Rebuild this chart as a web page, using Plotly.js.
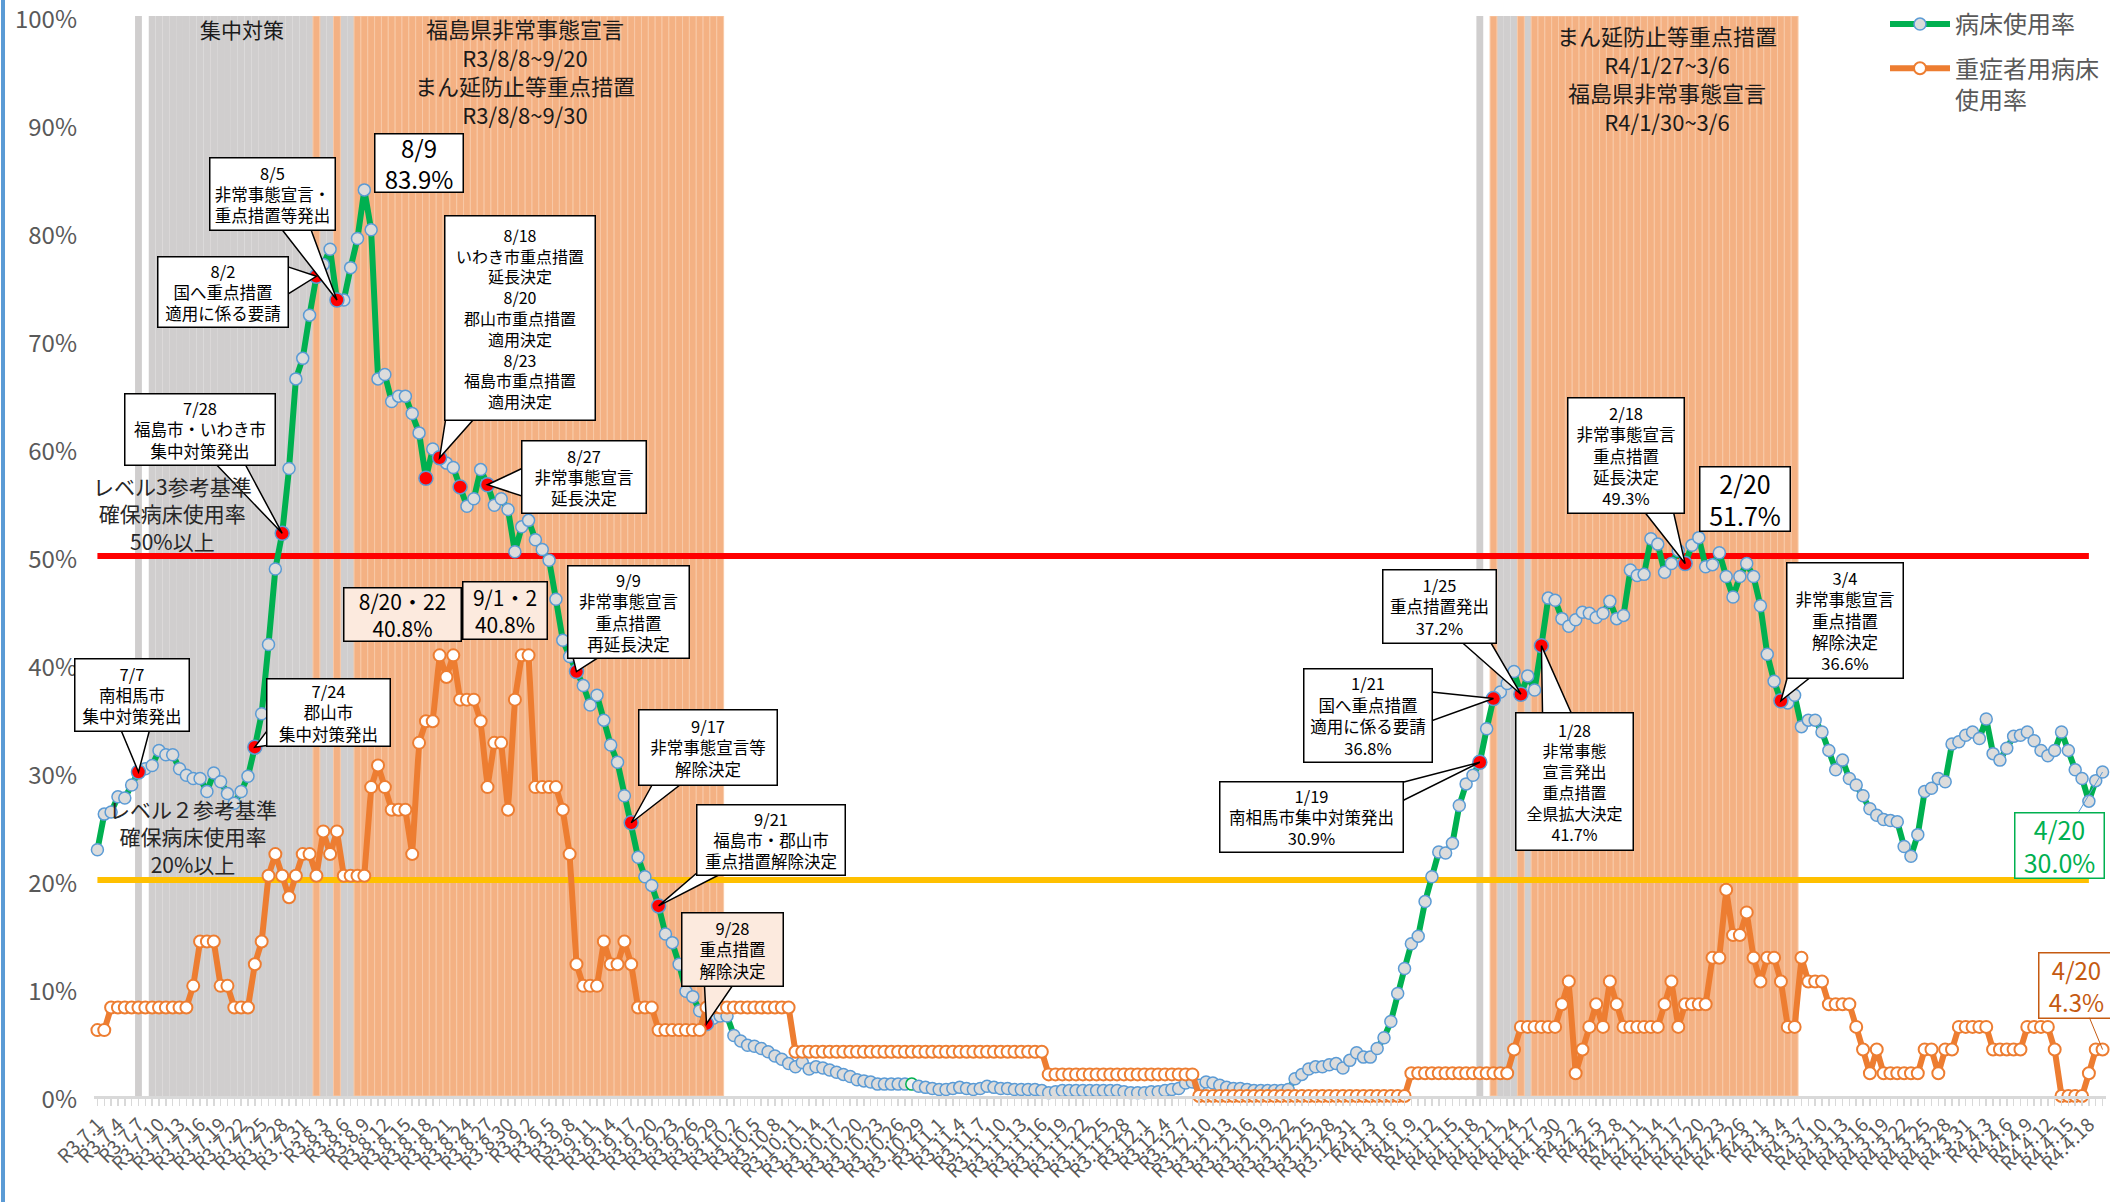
<!DOCTYPE html>
<html><head><meta charset="utf-8">
<script src="https://cdn.plot.ly/plotly-3.0.1.min.js"></script>
<style>body{margin:0;background:#fff}#chart{width:2110px;height:1202px}</style>
</head><body><div id="chart"></div>
<script>
// ---------- categories (daily, R3.7.1 .. R4.4.20) ----------
const firstDay = [2021, 7, 1];
const dayCount = 294;
function makeLabels(){
  const out=[]; const d0=Date.UTC(firstDay[0], firstDay[1]-1, firstDay[2]);
  for(let i=0;i<dayCount;i++){
    const d=new Date(d0+i*86400000);
    out.push('R'+(d.getUTCFullYear()-2018)+'.'+(d.getUTCMonth()+1)+'.'+d.getUTCDate());
  }
  return out;
}
const dayLabels = makeLabels();
const tickEvery = 3;

// ---------- series values (%) ----------
const bedRate = [
22.8,26.1,26.3,27.7,27.6,28.8,30.0,30.3,30.6,32.0,
31.6,31.6,30.3,29.7,29.4,29.4,28.2,29.9,29.1,28.0,
27.1,28.2,29.6,32.3,35.4,41.8,48.8,52.1,58.1,66.4,
68.3,72.3,75.9,77.0,78.4,73.7,73.7,76.7,79.4,83.9,
80.2,66.4,66.8,64.3,64.8,64.8,63.2,61.4,57.2,59.9,
59.1,58.6,58.2,56.4,54.6,55.3,58.0,56.6,54.7,55.3,
54.3,50.4,52.7,53.3,51.5,50.6,49.6,46.0,42.2,40.7,
39.3,38.0,36.2,37.1,34.8,32.5,30.9,27.8,25.3,22.1,
20.3,19.5,17.6,15.0,14.2,12.2,9.7,9.2,7.9,6.7,
7.2,7.4,7.4,5.6,5.1,4.7,4.6,4.4,4.1,3.7,
3.4,3.0,2.7,3.1,2.5,2.7,2.6,2.4,2.2,2.0,
1.8,1.5,1.4,1.3,1.1,1.1,1.1,1.1,1.1,1.1,
0.9,0.8,0.7,0.6,0.6,0.7,0.8,0.7,0.6,0.7,
0.9,0.8,0.7,0.7,0.6,0.6,0.6,0.6,0.5,0.3,
0.4,0.5,0.5,0.5,0.5,0.5,0.5,0.5,0.5,0.5,
0.4,0.3,0.3,0.3,0.4,0.4,0.5,0.6,0.7,1.2,
1.3,1.0,1.3,1.2,1.0,0.8,0.7,0.7,0.6,0.5,
0.5,0.5,0.5,0.5,0.6,1.6,2.0,2.5,2.7,2.7,
2.9,3.0,2.6,3.3,4.0,3.6,3.6,4.4,5.4,6.9,
9.5,11.8,14.1,14.8,18.0,20.3,22.6,22.5,23.4,26.9,
28.9,29.7,30.9,34.0,36.8,37.4,38.2,39.3,37.2,38.9,
37.6,41.7,46.1,45.9,44.2,43.5,44.1,44.8,44.7,44.3,
44.7,45.8,44.2,44.5,48.7,48.2,48.3,51.6,51.1,48.5,
49.3,50.5,49.3,51.0,51.7,49.0,49.2,50.3,48.1,46.2,
48.1,49.3,48.1,45.4,40.9,38.4,36.6,36.4,37.1,34.2,
34.8,34.8,33.7,32.0,30.2,31.1,29.4,28.8,27.8,26.6,
26.0,25.6,25.5,25.4,23.1,22.2,24.2,28.2,28.5,29.4,
29.1,32.6,32.8,33.4,33.7,33.1,34.9,31.7,31.1,32.2,
33.3,33.4,33.7,32.9,32.0,31.5,32.0,33.7,32.0,30.2,
29.4,27.3,29.2,30.0
];
const severeRate = [
6.1,6.1,8.2,8.2,8.2,8.2,8.2,8.2,8.2,8.2,
8.2,8.2,8.2,8.2,10.2,14.3,14.3,14.3,10.2,10.2,
8.2,8.2,8.2,12.2,14.3,20.4,22.4,20.4,18.4,20.4,
22.4,22.4,20.4,24.5,22.4,24.5,20.4,20.4,20.4,20.4,
28.6,30.6,28.6,26.5,26.5,26.5,22.4,32.7,34.7,34.7,
40.8,38.8,40.8,36.7,36.7,36.7,34.7,28.6,32.7,32.7,
26.5,36.7,40.8,40.8,28.6,28.6,28.6,28.6,26.5,22.4,
12.2,10.2,10.2,10.2,14.3,12.2,12.2,14.3,12.2,8.2,
8.2,8.2,6.1,6.1,6.1,6.1,6.1,6.1,6.1,8.2,
8.2,8.2,8.2,8.2,8.2,8.2,8.2,8.2,8.2,8.2,
8.2,8.2,4.1,4.1,4.1,4.1,4.1,4.1,4.1,4.1,
4.1,4.1,4.1,4.1,4.1,4.1,4.1,4.1,4.1,4.1,
4.1,4.1,4.1,4.1,4.1,4.1,4.1,4.1,4.1,4.1,
4.1,4.1,4.1,4.1,4.1,4.1,4.1,4.1,4.1,2.0,
2.0,2.0,2.0,2.0,2.0,2.0,2.0,2.0,2.0,2.0,
2.0,2.0,2.0,2.0,2.0,2.0,2.0,2.0,2.0,2.0,
2.0,0,0,0,0,0,0,0,0,0,
0,0,0,0,0,0,0,0,0,0,
0,0,0,0,0,0,0,0,0,0,
0,0,2.1,2.1,2.1,2.1,2.1,2.1,2.1,2.1,
2.1,2.1,2.1,2.1,2.1,2.1,2.1,4.3,6.4,6.4,
6.4,6.4,6.4,6.4,8.5,10.6,2.1,4.3,6.4,8.5,
6.4,10.6,8.5,6.4,6.4,6.4,6.4,6.4,6.4,8.5,
10.6,6.4,8.5,8.5,8.5,8.5,12.8,12.8,19.1,14.9,
14.9,17.0,12.8,10.6,12.8,12.8,10.6,6.4,6.4,12.8,
10.6,10.6,10.6,8.5,8.5,8.5,8.5,6.4,4.3,2.1,
4.3,2.1,2.1,2.1,2.1,2.1,2.1,4.3,4.3,2.1,
4.3,4.3,6.4,6.4,6.4,6.4,6.4,4.3,4.3,4.3,
4.3,4.3,6.4,6.4,6.4,6.4,4.3,0,0,0,
0,2.1,4.3,4.3
];
const highlightDay = 'R3.10.28';
const eventDates = ['R3.7.7','R3.7.24','R3.7.28','R3.8.2','R3.8.5','R3.8.18','R3.8.20','R3.8.23','R3.8.27',
  'R3.9.9','R3.9.17','R3.9.21','R3.9.28','R4.1.19','R4.1.21','R4.1.25','R4.1.28','R4.2.18','R4.3.4'];
const grayPeriods = [['R3.7.7','R3.7.7'],['R3.7.9','R3.8.1'],['R3.8.3','R3.8.4'],['R3.8.6','R3.8.7'],
  ['R4.1.19','R4.1.19'],['R4.1.22','R4.1.24'],['R4.1.26','R4.1.26']];
const orangePeriods = [['R3.8.2','R3.8.2'],['R3.8.5','R3.8.5'],['R3.8.8','R3.9.30'],
  ['R4.1.21','R4.1.21'],['R4.1.25','R4.1.25'],['R4.1.27','R4.3.6']];
const levelLines = [50, 20];
const levelColors = ['#FF0000', '#FFC000'];
const levelSpan = ['R3.7.1', 'R4.4.18'];
const seriesNames = ['病床使用率', '重症者用病床<br>使用率'];

// ---------- helpers ----------
const FONT = '"Noto Sans CJK JP", "Noto Sans", sans-serif';
const idx = lab => dayLabels.indexOf(lab);
const xs = dayLabels.map((_, i) => i);
function expand(periods){const o=[];periods.forEach(p=>{for(let i=idx(p[0]);i<=idx(p[1]);i++)o.push(i);});return o;}
const grayX = expand(grayPeriods), orangeX = expand(orangePeriods);
const eventX = eventDates.map(idx), eventY = eventX.map(i => bedRate[i]);

const P = {l:94, t:16, w:2012, h:1080, x0:-0.5, x1:293.5, y0:0, y1:100};
const dx2px = x => P.l + (x-P.x0)/(P.x1-P.x0)*P.w;
const dy2px = y => P.t + (P.y1-y)/(P.y1-P.y0)*P.h;
const px2dx = p => P.x0 + (p-P.l)/P.w*(P.x1-P.x0);
const py2dy = p => P.y1 - (p-P.t)/P.h*(P.y1-P.y0);

const shapes = [];
const annotations = [];
const BOXFONT = 16.5;

function box(text, b, o){
  o = o || {};
  const cx=(b[0]+b[1])/2, cy=(b[2]+b[3])/2;
  annotations.push({x:px2dx(cx), y:py2dy(cy), xref:'x', yref:'y', text:text, showarrow:false,
    xanchor:'center', yanchor:'middle', align:'center', valign:'middle',
    bgcolor:o.bg||'#FFFFFF', bordercolor:o.border||'#000000', borderwidth:o.bw===undefined?1.5:o.bw, borderpad:2,
    width:(b[1]-b[0])-7, height:(b[3]-b[2])-7,
    font:{family:FONT, size:o.size||BOXFONT, color:o.color||'#000000'}});
}
function callout(text, b, dateLab, o){
  o = o || {};
  const i = idx(dateLab);
  const tx = dx2px(i), ty = dy2px(bedRate[i]);
  const cx=(b[0]+b[1])/2, cy=(b[2]+b[3])/2, hw=(b[1]-b[0])/2, hh=(b[3]-b[2])/2;
  const dx=tx-cx, dy=ty-cy;
  const tX = Math.abs(dx)>1e-6 ? hw/Math.abs(dx) : 1e9;
  const tY = Math.abs(dy)>1e-6 ? hh/Math.abs(dy) : 1e9;
  const s = Math.min(tX,tY);
  let ex=cx+dx*s, ey=cy+dy*s, p1, p2;
  const half = 15, inset = 4;
  const clampX = v => Math.max(b[0]+2, Math.min(b[1]-2, v));
  const clampY = v => Math.max(b[2]+2, Math.min(b[3]-2, v));
  if(tX < tY){
    const xx = ex - Math.sign(dx)*inset;
    p1=[xx, clampY(ey-half)]; p2=[xx, clampY(ey+half)];
  } else {
    const yy = ey - Math.sign(dy)*inset;
    p1=[clampX(ex-half), yy]; p2=[clampX(ex+half), yy];
  }
  const path = 'M '+px2dx(p1[0])+' '+py2dy(p1[1])+' L '+i+' '+bedRate[i]+' L '+px2dx(p2[0])+' '+py2dy(p2[1])+' Z';
  shapes.push({type:'path', path:path, xref:'x', yref:'y', layer:'above',
    fillcolor:o.bg||'#FFFFFF', line:{color:'#000000', width:1.5}});
  box(text, b, o);
}
function label(text, cx, cy, size, color){
  annotations.push({x:px2dx(cx), y:py2dy(cy), xref:'x', yref:'y', text:text, showarrow:false,
    xanchor:'center', yanchor:'middle', align:'center',
    font:{family:FONT, size:size, color:color||'#1A1A1A'}});
}

// ---------- text ----------
label('集中対策', 242, 29, 21);
label('福島県非常事態宣言<br>R3/8/8~9/20<br>まん延防止等重点措置<br>R3/8/8~9/30', 525, 71, 22);
label('まん延防止等重点措置<br>R4/1/27~3/6<br>福島県非常事態宣言<br>R4/1/30~3/6', 1667, 78, 22);
label('レベル3参考基準<br>確保病床使用率<br>50%以上', 172, 513, 21, '#262626');
label('レベル２参考基準<br>確保病床使用率<br>20%以上', 193, 836, 21, '#262626');

box('8/9<br>83.9%', [374,464,133,193], {size:24});
callout('8/5<br>非常事態宣言・<br>重点措置等発出', [209,336,157,231], 'R3.8.5');
callout('8/2<br>国へ重点措置<br>適用に係る要請', [157,289,256,328], 'R3.8.2');
callout('7/28<br>福島市・いわき市<br>集中対策発出', [124,276,393,466], 'R3.7.28');
callout('7/7<br>南相馬市<br>集中対策発出', [74,190,658,732], 'R3.7.7');
callout('7/24<br>郡山市<br>集中対策発出', [266,391,678,747], 'R3.7.24');
callout('8/18<br>いわき市重点措置<br>延長決定<br>8/20<br>郡山市重点措置<br>適用決定<br>8/23<br>福島市重点措置<br>適用決定', [444,596,215,421], 'R3.8.20', {size:16});
callout('8/27<br>非常事態宣言<br>延長決定', [521,647,440,514], 'R3.8.27');
box('8/20・22<br>40.8%', [343,462,587,642], {size:21, bg:'#FCEADE'});
box('9/1・2<br>40.8%', [462,548,581,640], {size:21, bg:'#FCEADE'});
callout('9/9<br>非常事態宣言<br>重点措置<br>再延長決定', [567,690,565,659], 'R3.9.9');
callout('9/17<br>非常事態宣言等<br>解除決定', [638,778,709,786], 'R3.9.17');
callout('9/21<br>福島市・郡山市<br>重点措置解除決定', [696,846,804,876], 'R3.9.21');
callout('9/28<br>重点措置<br>解除決定', [681,784,912,987], 'R3.9.28', {bg:'#FCEADE'});
callout('1/19<br>南相馬市集中対策発出<br>30.9%', [1219,1404,781,853], 'R4.1.19');
callout('1/21<br>国へ重点措置<br>適用に係る要請<br>36.8%', [1303,1433,668,763], 'R4.1.21');
callout('1/25<br>重点措置発出<br>37.2%', [1382,1497,569,644], 'R4.1.25');
callout('1/28<br>非常事態<br>宣言発出<br>重点措置<br>全県拡大決定<br>41.7%', [1515,1634,712,851], 'R4.1.28', {size:16});
callout('2/18<br>非常事態宣言<br>重点措置<br>延長決定<br>49.3%', [1567,1685,397,514], 'R4.2.18');
box('2/20<br>51.7%', [1699,1791,466,532], {size:25});
callout('3/4<br>非常事態宣言<br>重点措置<br>解除決定<br>36.6%', [1786,1904,562,679], 'R4.3.4');

(function(){
  const i = dayCount-1;
  annotations.push({x:i, y:bedRate[i], xref:'x', yref:'y', text:'4/20<br>30.0%', showarrow:true,
    arrowhead:0, arrowwidth:1, arrowcolor:'#5B9BD5', ax:px2dx(2059), ay:py2dy(845), axref:'x', ayref:'y',
    bgcolor:'#FFFFFF', bordercolor:'#00B050', borderwidth:1.5, borderpad:2, width:84, height:60,
    font:{family:FONT, size:25, color:'#00B050'}});
  annotations.push({x:i, y:severeRate[i], xref:'x', yref:'y', text:'4/20<br>4.3%', showarrow:true,
    arrowhead:0, arrowwidth:1, arrowcolor:'#C55A11', ax:px2dx(2076), ay:py2dy(985), axref:'x', ayref:'y',
    bgcolor:'#FFFFFF', bordercolor:'#C55A11', borderwidth:1.5, borderpad:2, width:70, height:60,
    font:{family:FONT, size:24, color:'#C55A11'}});
})();

shapes.push({type:'line', xref:'paper', yref:'paper', x0:(3-P.l)/P.w, x1:(3-P.l)/P.w,
  y0:-(1202-P.t-P.h)/P.h, y1:1+P.t/P.h, line:{color:'#5B9BD5', width:4}});

// ---------- traces ----------
const hi = idx(highlightDay);
const lx = [idx(levelSpan[0]), idx(levelSpan[1])];
const traces = [
  {type:'bar', x:grayX, y:grayX.map(()=>100), width:1, marker:{color:'#D0CECE', line:{width:0}},
   showlegend:false, hoverinfo:'skip'},
  {type:'bar', x:orangeX, y:orangeX.map(()=>100), width:1, marker:{color:'#F4B183', line:{width:1, color:'#F8C9A7'}},
   showlegend:false, hoverinfo:'skip'},
  {type:'scatter', mode:'lines', x:lx, y:[levelLines[0], levelLines[0]],
   line:{color:levelColors[0], width:6}, showlegend:false, hoverinfo:'skip'},
  {type:'scatter', mode:'lines', x:lx, y:[levelLines[1], levelLines[1]],
   line:{color:levelColors[1], width:6}, showlegend:false, hoverinfo:'skip'},
  {type:'scatter', mode:'lines+markers', name:seriesNames[0], legendgroup:'a', x:xs, y:bedRate, cliponaxis:false,
   line:{color:'#00B050', width:6},
   marker:{symbol:'circle', size:12,
     color:xs.map(i=> i===hi ? '#F2F2F2' : '#DCDCDC'),
     line:{color:xs.map(i=> i===hi ? '#00B050' : '#5B9BD5'), width:1.5}}},
  {type:'scatter', mode:'markers', x:eventX, y:eventY, cliponaxis:false, showlegend:false,
   marker:{symbol:'circle', size:14, color:'#FF0000', line:{color:'#5B9BD5', width:1.5}}},
  {type:'scatter', mode:'lines+markers', name:seriesNames[1], legendgroup:'b', x:xs, y:severeRate, cliponaxis:false,
   line:{color:'#ED7D31', width:6},
   marker:{symbol:'circle', size:12, color:'#FFFFFF', line:{color:'#ED7D31', width:2}}}
];

const tickVals = xs.filter(i => i % tickEvery === 0);
const layout = {
  width:2110, height:1202,
  margin:{l:P.l, r:2110-P.l-P.w, t:P.t, b:1202-P.t-P.h, pad:0, autoexpand:false},
  paper_bgcolor:'#FFFFFF', plot_bgcolor:'#FFFFFF',
  font:{family:FONT, color:'#595959'},
  barmode:'overlay', showlegend:true,
  xaxis:{range:[P.x0, P.x1], tickmode:'array', tickvals:tickVals, ticktext:tickVals.map(i=>dayLabels[i]),
    tickangle:-45, tickfont:{family:FONT, size:19, color:'#595959'}, automargin:false,
    showgrid:false, zeroline:false, showline:true, linecolor:'#D9D9D9', linewidth:3,
    ticks:'outside', ticklen:7, tickwidth:1.5, tickcolor:'#D9D9D9',
    minor:{tickmode:'linear', tick0:0, dtick:1, ticks:'outside', ticklen:7, tickwidth:1.5, tickcolor:'#D9D9D9', showgrid:false}},
  yaxis:{range:[P.y0, P.y1], tickmode:'array', tickvals:[0,10,20,30,40,50,60,70,80,90,100],
    ticktext:['0%','10%','20%','30%','40%','50%','60%','70%','80%','90%','100%'], automargin:false,
    tickfont:{family:FONT, size:24, color:'#595959'}, ticklabelstandoff:16, ticklabelshift:4, ticklabeloverflow:'allow',
    showgrid:false, zeroline:false, showline:false, ticks:''},
  legend:{x:(1885-P.l)/P.w, y:1+(P.t-2)/P.h, xanchor:'left', yanchor:'top', bgcolor:'rgba(0,0,0,0)',
    font:{family:FONT, size:24, color:'#595959'}, itemwidth:60, valign:'top', tracegroupgap:10},
  shapes:shapes, annotations:annotations
};
Plotly.newPlot('chart', traces, layout, {displayModeBar:false, staticPlot:true});
</script>
</body></html>
